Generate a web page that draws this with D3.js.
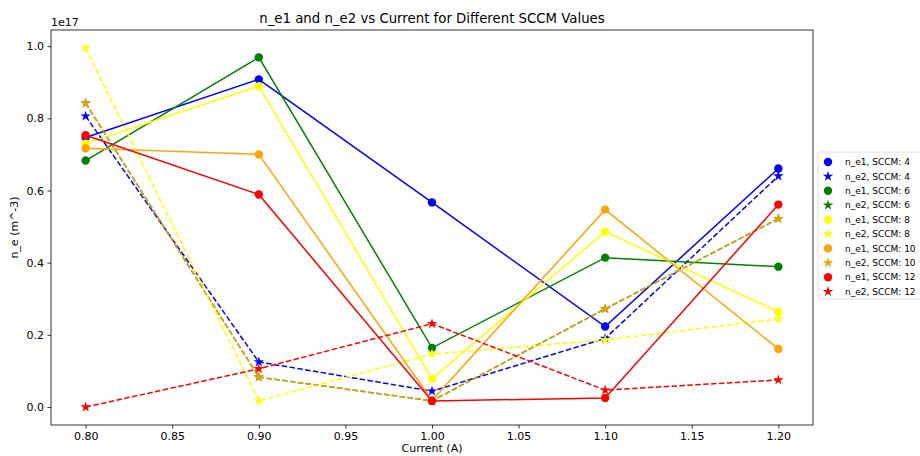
<!DOCTYPE html>
<html>
<head>
<meta charset="utf-8">
<script src="https://cdn.jsdelivr.net/npm/d3@7"></script>
<style>
  body { margin: 0; background: #fff; }
  text { font-family: "DejaVu Sans", sans-serif; }
</style>
</head>
<body>
<div id="chart"></div>
<script>
var currents = [0.8, 0.9, 1.0, 1.1, 1.2]
var sccms = [4, 6, 8, 10, 12]
var colors = ['blue', 'green', 'yellow', 'orange', 'red']

// values in units of 1e17 m^-3
var ne1_4  = [0.747, 0.908, 0.567, 0.223, 0.661]
var ne2_4  = [0.806, 0.125, 0.044, 0.190, 0.640]
var ne1_6  = [0.683, 0.969, 0.164, 0.414, 0.389]
var ne2_6  = [0.842, 0.083, 0.017, 0.272, 0.522]
var ne1_8  = [0.730, 0.889, 0.078, 0.486, 0.264]
var ne2_8  = [0.995, 0.017, 0.147, 0.186, 0.244]
var ne1_10 = [0.717, 0.700, 0.019, 0.547, 0.161]
var ne2_10 = [0.842, 0.083, 0.017, 0.272, 0.522]
var ne1_12 = [0.753, 0.589, 0.017, 0.025, 0.561]
var ne2_12 = [0.000, 0.106, 0.231, 0.047, 0.075]

var ne1 = [ne1_4, ne1_6, ne1_8, ne1_10, ne1_12]
var ne2 = [ne2_4, ne2_6, ne2_8, ne2_10, ne2_12]

var xTicks = [0.80, 0.85, 0.90, 0.95, 1.00, 1.05, 1.10, 1.15, 1.20]
var yTicks = [0.0, 0.2, 0.4, 0.6, 0.8, 1.0]

var margin = { top: 30, right: 107, bottom: 31, left: 51 },
    svg_width = 920,
    svg_height = 456,
    chart_width = svg_width - margin.left - margin.right,
    chart_height = svg_height - margin.top - margin.bottom

var svg = d3.select('#chart')
    .append('svg')
    .attr('width', svg_width)
    .attr('height', svg_height)

var chartGroup = svg.append('g')
    .attr('transform', `translate(${margin.left}, ${margin.top})`)

var xScale = d3.scaleLinear().domain([0.78, 1.22]).range([0, chart_width])
var yScale = d3.scaleLinear().domain([-0.04975, 1.04475]).range([chart_height, 0])

var xAxis = d3.axisBottom(xScale).tickValues(xTicks).tickFormat(d3.format('.2f')).tickSize(3.5).tickPadding(3.5)
var yAxis = d3.axisLeft(yScale).tickValues(yTicks).tickFormat(d3.format('.1f')).tickSize(3.5).tickPadding(3.5)

var line = d3.line()
    .x((d, i) => xScale(currents[i]))
    .y(d => yScale(d))

var star = d3.symbol().type(d3.symbolStar).size(34)

var plot = chartGroup.append('g')

sccms.forEach((s, k) => {
  // n_e1 solid with circles
  var g1 = plot.append('g')
  g1.append('path')
      .datum(ne1[k])
      .attr('d', line)
      .attr('fill', 'none')
      .attr('stroke', colors[k])
      .attr('stroke-width', 1.5)
  g1.selectAll('circle')
      .data(ne1[k])
      .enter()
      .append('circle')
      .attr('cx', (d, i) => xScale(currents[i]))
      .attr('cy', d => yScale(d))
      .attr('r', 4.2)
      .style('fill', colors[k])

  // n_e2 dashed with stars
  var op = s === 10 ? 0.9 : 1
  var g2 = plot.append('g').attr('opacity', op)
  g2.append('path')
      .datum(ne2[k])
      .attr('d', line)
      .attr('fill', 'none')
      .attr('stroke', colors[k])
      .attr('stroke-width', 1.5)
      .attr('stroke-dasharray', '5.5,2.4')
  g2.selectAll('path.star')
      .data(ne2[k])
      .enter()
      .append('path')
      .attr('class', 'star')
      .attr('d', star)
      .attr('transform', (d, i) => `translate(${xScale(currents[i])}, ${yScale(d)})`)
      .style('fill', colors[k])
})

var gx = chartGroup.append('g')
    .attr('transform', `translate(0, ${chart_height})`)
    .call(xAxis)
var gy = chartGroup.append('g')
    .call(yAxis)

;[gx, gy].forEach(g => {
  g.select('.domain').remove()
  g.selectAll('text').attr('font-size', 11).attr('fill', '#000').style('font-family', '"DejaVu Sans", sans-serif')
  g.selectAll('line').attr('stroke', '#000').attr('stroke-width', 0.8)
})

chartGroup.append('rect')
    .attr('width', chart_width)
    .attr('height', chart_height)
    .attr('fill', 'none')
    .attr('stroke', '#000')
    .attr('stroke-width', 0.8)

svg.append('text')
    .attr('x', margin.left + chart_width / 2)
    .attr('y', 23)
    .attr('text-anchor', 'middle')
    .attr('font-size', 13.3)
    .text('n_e1 and n_e2 vs Current for Different SCCM Values')

svg.append('text')
    .attr('x', margin.left)
    .attr('y', 26)
    .attr('font-size', 11)
    .text('1e17')

svg.append('text')
    .attr('transform', `translate(18, ${margin.top + chart_height / 2}) rotate(-90)`)
    .attr('text-anchor', 'middle')
    .attr('font-size', 11)
    .text('n_e (m^-3)')

svg.append('text')
    .attr('x', margin.left + chart_width / 2)
    .attr('y', 452)
    .attr('text-anchor', 'middle')
    .attr('font-size', 11)
    .text('Current (A)')

// legend
var legendItems = []
sccms.forEach((s, k) => {
  legendItems.push({ label: 'n_e1, SCCM: ' + s, color: colors[k], mark: 'circle' })
  legendItems.push({ label: 'n_e2, SCCM: ' + s, color: colors[k], mark: 'star' })
})

var legend = svg.append('g').attr('transform', 'translate(818, 152)')
legend.append('rect')
    .attr('width', 108)
    .attr('height', 147)
    .attr('rx', 2)
    .attr('fill', '#fff')
    .attr('stroke', '#d6d6d6')
    .attr('stroke-width', 0.8)

var rows = legend.selectAll('g.item')
    .data(legendItems)
    .enter()
    .append('g')
    .attr('class', 'item')
    .attr('transform', (d, i) => `translate(0, ${10 + i * 14.4})`)

rows.filter(d => d.mark === 'circle')
    .append('circle')
    .attr('cx', 10)
    .attr('r', 4.2)
    .style('fill', d => d.color)
rows.filter(d => d.mark === 'star')
    .append('path')
    .attr('d', star)
    .attr('transform', 'translate(10, 0)')
    .style('fill', d => d.color)
rows.append('text')
    .attr('x', 27)
    .attr('dy', '0.35em')
    .attr('font-size', 9)
    .text(d => d.label)
</script>
</body>
</html>
